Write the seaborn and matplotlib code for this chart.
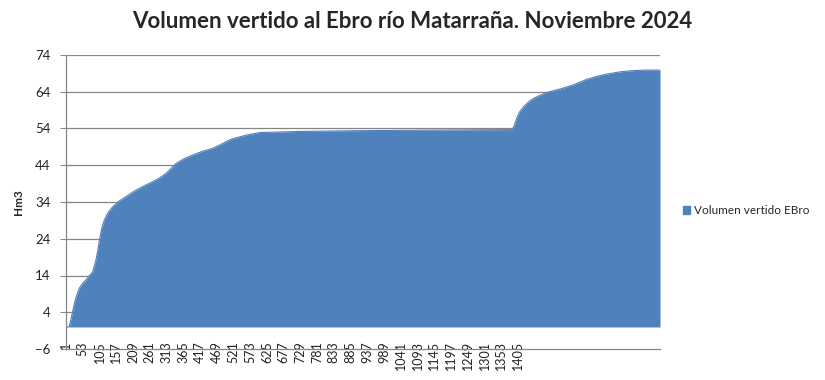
import matplotlib
matplotlib.use("Agg")
import matplotlib.pyplot as plt
import seaborn as sns
import pandas as pd
from matplotlib.patches import Patch

# Category index (half-hourly records) and cumulative volume (Hm3)
registro = [1, 11, 20, 27, 35, 42, 52, 63, 74, 84, 94, 100, 105, 112, 120, 132, 146, 165, 188,
            212, 239, 265, 291, 312, 328, 343, 368, 395, 425, 457, 485, 509, 535, 561, 602,
            727, 900, 1038, 1200, 1386, 1392, 1401, 1410, 1422, 1437, 1453, 1475, 1495,
            1520, 1546, 1577, 1600, 1619, 1650, 1681, 1720, 1754, 1800, 1846]
volumen = [0.0, 0.0, 3.5, 6.4, 8.8, 10.5, 11.8, 12.8, 14.0, 15.0, 18.2, 21.0, 23.7, 26.8, 29.1, 31.2,
           32.7, 34.2, 35.5, 36.9, 38.2, 39.3, 40.5, 41.8, 43.2, 44.5, 45.8, 46.8, 47.8, 48.6,
           49.8, 50.9, 51.6, 52.2, 52.9, 53.2, 53.4, 53.5, 53.6, 53.7, 54.5, 56.8, 58.5, 59.9,
           61.2, 62.2, 63.1, 63.8, 64.4, 65.0, 65.9, 66.7, 67.4, 68.2, 68.8, 69.4, 69.7, 69.9, 69.9]

xticks = list(range(1, 1406, 52))
yticks = [-6, 4, 14, 24, 34, 44, 54, 64, 74]
serie = "Volumen vertido EBro"
titulo = "Volumen vertido al Ebro río Matarraña. Noviembre 2024"

df = pd.DataFrame({"registro": registro, "volumen": volumen})

sns.set_style("white")
plt.rcParams["font.family"] = ["Lato", "DejaVu Sans"]

color = "#4F81BD"
grid_c = "#868686"

fig = plt.figure(figsize=(8.25, 3.8), dpi=100)
ax = fig.add_axes([66 / 825, 1 - 349 / 380, (660 - 66) / 825, (349 - 55) / 380])

ax.fill_between(df["registro"], 0, df["volumen"], color=color, linewidth=0, zorder=3)
sns.lineplot(data=df, x="registro", y="volumen", color=color, linewidth=0.8, ax=ax, zorder=3)

ax.set_xlim(1, 1846)
ax.set_ylim(-6, 74)
ax.set_yticks(yticks)
ax.set_xticks(xticks)
ax.set_xticklabels([str(t) for t in xticks], rotation=90, fontsize=9, color="#222222")
ax.tick_params(axis="x", direction="inout", length=5, width=0.8, color=grid_c, pad=-8)
ax.tick_params(axis="y", direction="out", length=4, width=0.8, color=grid_c, pad=7,
               labelsize=9.5, labelcolor="#222222", left=True)
for lab in ax.get_xticklabels():
    lab.set_va("top")

for y in yticks[1:]:
    ax.axhline(y, color=grid_c, linewidth=0.9, zorder=1)

for s in ["top", "right"]:
    ax.spines[s].set_visible(False)
for s in ["left", "bottom"]:
    ax.spines[s].set_color(grid_c)
    ax.spines[s].set_linewidth(0.9)

ax.set_xlabel("")
ax.set_ylabel("Hm3", fontsize=8.5, fontweight="bold", labelpad=8)

fig.suptitle(titulo, x=0.5, y=0.97, fontsize=16, fontweight="bold", va="top")

ax.legend(handles=[Patch(facecolor=color, edgecolor=color, label=serie)],
          loc="center left", bbox_to_anchor=(1.02, 0.47), frameon=False, fontsize=8.5,
          handlelength=0.6, handleheight=0.6, handletextpad=0.4)

fig.savefig("out.png", dpi=100)
